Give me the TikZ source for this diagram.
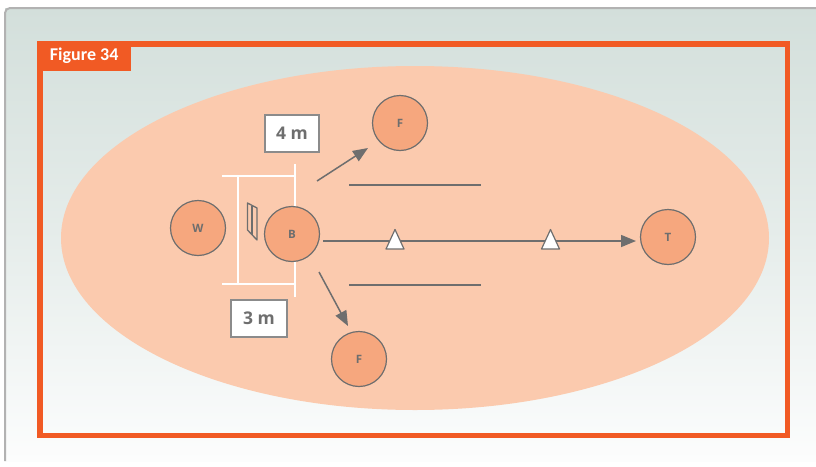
\documentclass[tikz,border=0pt]{standalone}
\usepackage{fontspec}
\setmainfont{Carlito}
\newfontfamily\osans{Open Sans}
\usetikzlibrary{arrows.meta}
\definecolor{frameor}{HTML}{F15A24}
\definecolor{field}{HTML}{FBCAAE}
\definecolor{player}{HTML}{F6A77E}
\definecolor{dgray}{HTML}{6E6E6E}
\definecolor{ptop}{HTML}{D3DFDB}
\definecolor{pbot}{HTML}{FCFDFD}
\begin{document}
\begin{tikzpicture}[x=1pt,y=-1pt,
  playerc/.style={circle,draw=dgray,line width=1.2pt,fill=player,minimum size=55pt,inner sep=0pt,
    text=dgray,font=\osans\bfseries\fontsize{11.5}{12}\selectfont},
  distbox/.style={draw=dgray!80,line width=1.5pt,fill=white,inner sep=0pt,
    text=dgray,font=\osans\bfseries\fontsize{17.5}{20}\selectfont},
  move/.style={draw=dgray,line width=1.5pt,-{Triangle[length=15pt,width=12pt]}},
  crease/.style={draw=white,line width=2pt},
  marker/.style={draw=dgray,line width=1.2pt,fill=white}]
\useasboundingbox (0,0) rectangle (816,466);
\fill[white] (0,0) rectangle (816,466);
% panel
\shade[top color=ptop,bottom color=pbot,middle color=ptop!55!pbot] (5,8) rectangle (830,461);
\draw[black!30,line width=2pt,rounded corners=5pt] (5,461) -- (5,8) -- (830,8);
% frame
\draw[frameor,line width=5.5pt] (40,44) rectangle (787.5,435.5);
\node[fill=frameor,text=white,font=\bfseries\fontsize{18}{20}\selectfont,anchor=north west,
  minimum width=94pt,minimum height=30pt,inner sep=0pt] (fig) at (37,41) {Figure 34};
% field
\fill[field] (415,238) ellipse [x radius=354, y radius=172];
% crease
\draw[crease] (222,176) -- (295,176);
\draw[crease] (222,284) -- (295,284);
\draw[crease] (238,176) -- (238,284);
\draw[crease] (295,164) -- (295,297);
% stumps
\draw[dgray,line width=1.3pt,line join=round] (247.5,203) -- (257,208) -- (257,240) -- (247.5,230) -- cycle;
\draw[dgray,line width=1.3pt] (252,205.5) -- (252,235);
% dark lines
\draw[dgray,line width=1.8pt] (349,185) -- (481,185);
\draw[dgray,line width=1.8pt] (349,285) -- (481,285);
% players
\node[playerc] (W) at (198,228) {W};
\node[playerc] (B) at (292,234) {B};
\node[playerc] (F1) at (400,123) {F};
\node[playerc] (F2) at (359,359) {F};
\node[playerc] (T) at (668,237) {T};
% distance labels
\node[distbox,minimum width=54pt,minimum height=37pt] (d4) at (292,133.5) {4 m};
\node[distbox,minimum width=56pt,minimum height=37pt] (d3) at (259,318.5) {3 m};
% arrows
\coordinate (s1) at (323,241);
\coordinate (e1) at (636,241);
\draw[move] (s1) -- (e1);
\coordinate (s2) at (317,181);
\coordinate (e2) at (368,148);
\draw[move] (s2) -- (e2);
\coordinate (s3) at (319,272);
\coordinate (e3) at (348,326);
\draw[move] (s3) -- (e3);
% markers
\draw[marker,line join=round] (395,229.5) -- (404,249) -- (386,249) -- cycle;
\draw[marker,line join=round] (550.5,229.5) -- (559.5,249) -- (541.5,249) -- cycle;
\end{tikzpicture}
\end{document}
